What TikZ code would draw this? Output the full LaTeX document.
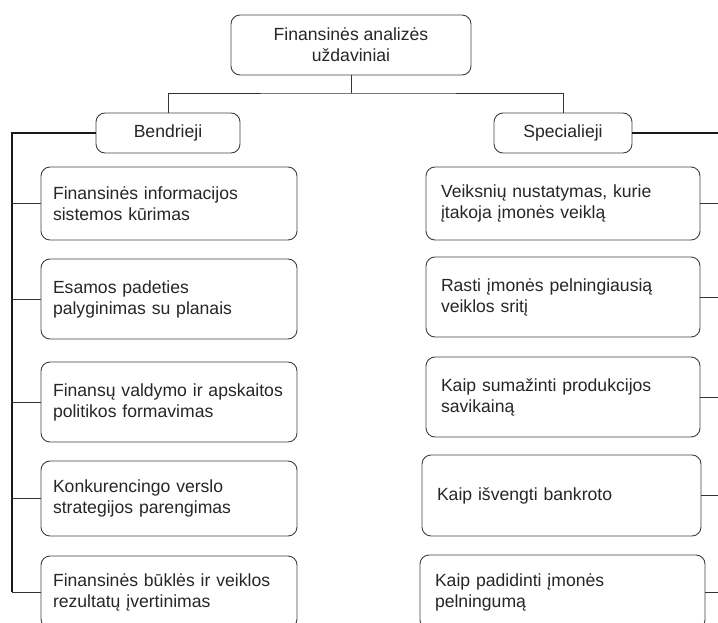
\documentclass[tikz,border=0pt]{standalone}
\usepackage{fontspec}
\setmainfont{Liberation Sans}
\begin{document}
\begin{tikzpicture}[x=1pt,y=-1pt,
  box/.style={draw=black!75, line width=0.9pt, rounded corners=9pt,
    font=\fontsize{17.6}{21}\selectfont, text=black!85, inner sep=0pt, align=left},
  link/.style={draw=black!80, line width=0.9pt},
  trunk/.style={draw=black!90, line width=1.7pt}]
\useasboundingbox (0,0) rectangle (718,623);
\clip (0,0) rectangle (718,623);

% root and the two groups
\node[box, align=center, minimum width=240, minimum height=60] (root) at (351,45)
  {Finansinės analizės\\uždaviniai};
\node[box, align=center, minimum width=144, minimum height=40] (bend) at (168,133) {Bendrieji};
\node[box, align=center, minimum width=138, minimum height=40] (spec) at (563,133) {Specialieji};

% general tasks
\node[box, minimum width=256, minimum height=73, text width=232] (l1) at (169,203.5)
  {Finansinės informacijos\\sistemos kūrimas};
\node[box, minimum width=256, minimum height=80, text width=232] (l2) at (169,299)
  {Esamos padeties\\palyginimas su planais};
\node[box, minimum width=256, minimum height=80, text width=232] (l3) at (169,402)
  {Finansų valdymo ir apskaitos\\politikos formavimas};
\node[box, minimum width=256, minimum height=75, text width=232] (l4) at (169,498.5)
  {Konkurencingo verslo\\strategijos parengimas};
\node[box, minimum width=256, minimum height=72, text width=232] (l5) at (169,592)
  {Finansinės būklės ir veiklos\\rezultatų įvertinimas};

% special tasks
\node[box, minimum width=274, minimum height=73, text width=244] (r1) at (563,203.5)
  {Veiksnių nustatymas, kurie\\įtakoja įmonės veiklą};
\node[box, minimum width=274, minimum height=80, text width=244] (r2) at (563,297)
  {Rasti įmonės pelningiausią\\veiklos sritį};
\node[box, minimum width=274, minimum height=80, text width=244] (r3) at (563,397)
  {Kaip sumažinti produkcijos\\savikainą};
\node[box, minimum width=279, minimum height=81, text width=249] (r4) at (561.5,495.5)
  {Kaip išvengti bankroto};
\node[box, minimum width=285, minimum height=74, text width=255] (r5) at (562.5,592)
  {Kaip padidinti įmonės\\pelningumą};

% tree connectors
\coordinate (j) at (351,93);
\coordinate (lt) at (12,133);
\coordinate (rt) at (724,133);
\draw[link] (root.south) -- (j);
\draw[link] (bend.north) |- (j) -| (spec.north);

\draw[trunk] (bend.west) -- (lt) -- (lt |- l5.west);
\foreach \n in {l1,l2,l3,l4,l5}
  \draw[link] (\n.west) -- (lt |- \n.west);

\draw[trunk] (spec.east) -- (rt);
\foreach \n in {r1,r2,r3,r4,r5}
  \draw[link] (\n.east) -- (rt |- \n.east);
\end{tikzpicture}
\end{document}
